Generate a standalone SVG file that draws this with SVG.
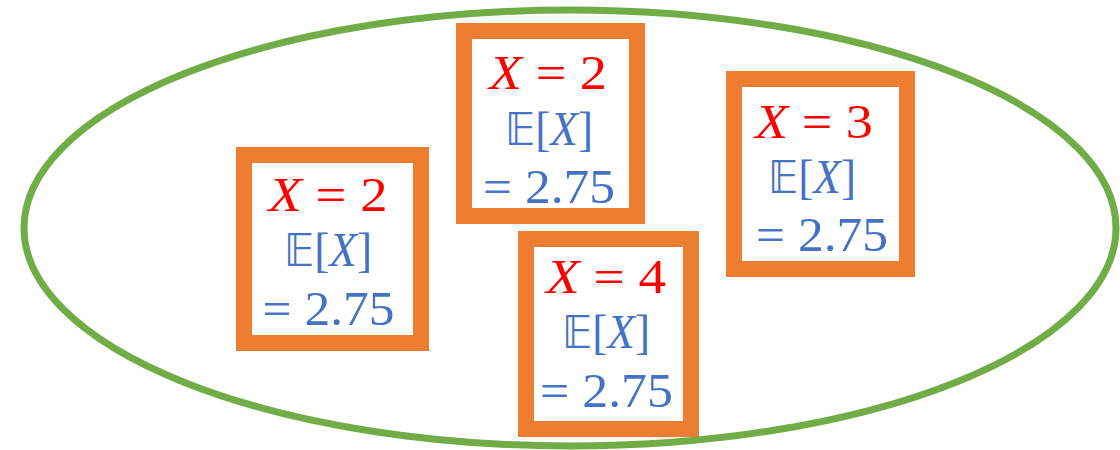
<svg xmlns="http://www.w3.org/2000/svg" width="1120" height="450" viewBox="0 0 1120 450">
<style>
.box{fill:#fff;stroke:#ED7D31;stroke-width:16}
.t{font-family:"Liberation Serif","DejaVu Serif","DejaVu Sans",serif;font-size:48px;text-anchor:middle}
.r{fill:#FF0000}
.b{fill:#4472C4}
.i{font-style:italic}
.ds{font-family:"DejaVu Sans","DejaVu Serif",sans-serif;font-size:44px}
</style>
<rect width="1120" height="450" fill="#fff"/>
<ellipse id="set" cx="570" cy="228" rx="546" ry="218" fill="none" stroke="#70AD47" stroke-width="7"/>
<g id="node1">
<rect class="box" x="244" y="155" width="177" height="188"/>
<text class="t r" x="328" y="211" textLength="119" lengthAdjust="spacingAndGlyphs"><tspan class="i">X</tspan> = 2</text>
<text class="t b" x="328" y="266" textLength="88" lengthAdjust="spacingAndGlyphs"><tspan class="ds">𝔼</tspan>[<tspan class="i">X</tspan>]</text>
<text class="t b" x="328.5" y="325" textLength="132" lengthAdjust="spacingAndGlyphs">= 2.75</text>
</g>
<g id="node2">
<rect class="box" x="464" y="31" width="173" height="185"/>
<text class="t r" x="548" y="89" textLength="118" lengthAdjust="spacingAndGlyphs"><tspan class="i">X</tspan> = 2</text>
<text class="t b" x="549" y="145" textLength="88" lengthAdjust="spacingAndGlyphs"><tspan class="ds">𝔼</tspan>[<tspan class="i">X</tspan>]</text>
<text class="t b" x="549" y="203" textLength="132" lengthAdjust="spacingAndGlyphs">= 2.75</text>
</g>
<g id="node3">
<rect class="box" x="526" y="239" width="165" height="190"/>
<text class="t r" x="606" y="293" textLength="120" lengthAdjust="spacingAndGlyphs"><tspan class="i">X</tspan> = 4</text>
<text class="t b" x="606" y="348" textLength="88" lengthAdjust="spacingAndGlyphs"><tspan class="ds">𝔼</tspan>[<tspan class="i">X</tspan>]</text>
<text class="t b" x="606.5" y="407" textLength="133" lengthAdjust="spacingAndGlyphs">= 2.75</text>
</g>
<g id="node4">
<rect class="box" x="734" y="79" width="173" height="190"/>
<text class="t r" x="814" y="138" textLength="118" lengthAdjust="spacingAndGlyphs"><tspan class="i">X</tspan> = 3</text>
<text class="t b" x="812" y="193" textLength="88" lengthAdjust="spacingAndGlyphs"><tspan class="ds">𝔼</tspan>[<tspan class="i">X</tspan>]</text>
<text class="t b" x="822" y="251" textLength="132" lengthAdjust="spacingAndGlyphs">= 2.75</text>
</g>
<g id="connectors"></g>
</svg>
